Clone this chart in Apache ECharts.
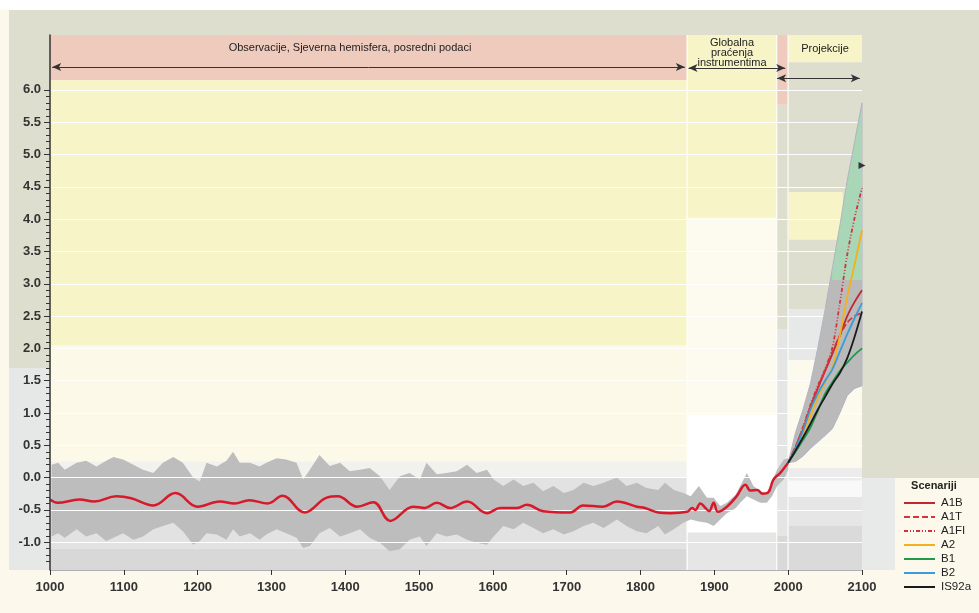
<!DOCTYPE html>
<html>
<head>
<meta charset="utf-8">
<script src="https://cdn.jsdelivr.net/npm/echarts@6/dist/echarts.min.js"></script>
<style>
  html, body { margin: 0; padding: 0; background: #fcf9ec; }
  #chart { width: 979px; height: 613px; }
</style>
</head>
<body>
<div id="chart"></div>
<script>
// tick labels
const yTicks = [-1.0, -0.5, 0.0, 0.5, 1.0, 1.5, 2.0, 2.5, 3.0, 3.5, 4.0, 4.5, 5.0, 5.5, 6.0];
const yMinor = [-1.3, -1.2, -1.1, -1.0, -0.9, -0.8, -0.7, -0.6, -0.5, -0.4, -0.3, -0.2, -0.1, 0.0,
  0.1, 0.2, 0.3, 0.4, 0.5, 0.6, 0.7, 0.8, 0.9, 1.0, 1.1, 1.2, 1.3, 1.4, 1.5, 1.6, 1.7, 1.8, 1.9, 2.0,
  2.1, 2.2, 2.3, 2.4, 2.5, 2.6, 2.7, 2.8, 2.9, 3.0, 3.1, 3.2, 3.3, 3.4, 3.5, 3.6, 3.7, 3.8, 3.9, 4.0,
  4.1, 4.2, 4.3, 4.4, 4.5, 4.6, 4.7, 4.8, 4.9, 5.0, 5.1, 5.2, 5.3, 5.4, 5.5, 5.6, 5.7, 5.8, 5.9, 6.0];

// proxy + instrumental range (grey band)
const bandYears = [1002, 1011, 1020, 1036, 1049, 1063, 1076, 1086, 1099, 1113, 1126, 1140, 1153, 1167, 1180,
  1194, 1203, 1212, 1226, 1239, 1248, 1257, 1271, 1284, 1293, 1307, 1320, 1334, 1343, 1352, 1365, 1379,
  1393, 1406, 1420, 1433, 1447, 1460, 1474, 1487, 1501, 1510, 1524, 1537, 1551, 1565, 1578, 1592, 1601,
  1614, 1628, 1641, 1655, 1668, 1682, 1696, 1709, 1723, 1736, 1750, 1768, 1781, 1795, 1808, 1824, 1833,
  1845, 1858, 1868, 1879, 1890, 1899, 1908, 1917, 1929, 1935, 1944, 1953, 1962, 1971, 1978, 1985, 1994, 2000];
const bandHigh = [0.2, 0.23, 0.12, 0.23, 0.26, 0.17, 0.26, 0.32, 0.28, 0.2, 0.12, 0.07, 0.23, 0.32, 0.23,
  0.0, -0.06, 0.23, 0.17, 0.26, 0.4, 0.23, 0.23, 0.17, 0.23, 0.3, 0.28, 0.23, -0.03, 0.12, 0.35, 0.18,
  0.23, 0.1, 0.12, 0.15, 0.02, -0.19, 0.02, 0.07, -0.03, 0.23, 0.05, 0.07, 0.1, 0.2, 0.07, 0.12, -0.03,
  -0.13, -0.03, -0.13, -0.08, -0.21, -0.13, -0.24, -0.19, -0.08, -0.13, -0.08, 0.0, -0.13, -0.08, -0.16, -0.19, -0.08,
  -0.19, -0.24, -0.29, -0.13, -0.31, -0.31, -0.44, -0.39, -0.26, -0.13, 0.07, -0.13, -0.21, -0.24, -0.06, 0.12, 0.28, 0.3];
const bandLow = [-0.91, -0.86, -0.93, -0.8, -0.91, -0.86, -0.98, -0.93, -0.86, -0.96, -0.91, -0.8, -0.75, -0.7, -0.83,
  -1.04, -0.98, -0.86, -0.88, -0.96, -0.8, -0.91, -0.86, -0.96, -0.88, -0.8, -0.86, -0.93, -1.09, -1.06, -0.86, -0.78,
  -0.91, -0.86, -0.8, -0.93, -1.01, -1.14, -1.11, -0.96, -0.91, -1.06, -0.86, -0.91, -0.88, -0.96, -1.01, -1.04, -0.91,
  -0.75, -0.8, -0.7, -0.78, -0.86, -0.8, -0.88, -0.83, -0.75, -0.7, -0.78, -0.65, -0.75, -0.83, -0.86, -0.75, -0.88,
  -0.8, -0.7, -0.65, -0.68, -0.7, -0.75, -0.65, -0.55, -0.47, -0.39, -0.29, -0.34, -0.39, -0.39, -0.29, -0.13, -0.03, 0.12];

// smoothed observations (red)
const obsYears = [1000, 1010, 1040, 1060, 1090, 1110, 1140, 1170, 1200, 1230, 1250, 1270, 1295, 1315, 1345, 1375,
  1390, 1416, 1438, 1461, 1492, 1508, 1524, 1542, 1565, 1592, 1610, 1633, 1646, 1668, 1705, 1722, 1749, 1768,
  1795, 1806, 1824, 1840, 1863, 1870, 1874, 1881, 1888, 1893, 1899, 1905, 1917, 1930, 1942, 1949, 1958, 1965,
  1973, 1980, 1989, 1998, 2000];
const obsVals = [-0.34, -0.39, -0.34, -0.37, -0.29, -0.32, -0.43, -0.24, -0.45, -0.37, -0.40, -0.35, -0.40, -0.28, -0.54, -0.31,
  -0.29, -0.45, -0.38, -0.67, -0.45, -0.47, -0.39, -0.47, -0.37, -0.55, -0.47, -0.47, -0.42, -0.52, -0.54, -0.43, -0.45, -0.37,
  -0.45, -0.47, -0.54, -0.55, -0.53, -0.47, -0.50, -0.40, -0.47, -0.52, -0.39, -0.53, -0.45, -0.29, -0.11, -0.20, -0.19, -0.25,
  -0.23, -0.03, 0.07, 0.20, 0.23];

// projections
const projYears = [2000, 2010, 2020, 2030, 2040, 2050, 2060, 2070, 2080, 2090, 2100];
const envHigh = [0.23, 0.7, 1.05, 1.45, 2.0, 2.6, 3.25, 3.9, 4.6, 5.2, 5.8];
const envLow = [0.23, 0.25, 0.33, 0.45, 0.55, 0.65, 0.76, 1.0, 1.27, 1.38, 1.42];
const greenYears = [2059, 2060, 2070, 2080, 2090, 2100];
const greenHigh = [3.06, 3.2, 3.85, 4.55, 5.15, 5.74];
const greenLow = [3.06, 3.06, 3.06, 3.06, 3.06, 3.06];
const a1b = [0.23, 0.46, 0.74, 1.08, 1.38, 1.65, 1.92, 2.2, 2.5, 2.72, 2.9];
const a1t = [0.23, 0.48, 0.76, 1.08, 1.38, 1.66, 1.95, 2.2, 2.4, 2.5, 2.55];
const a1fi = [0.23, 0.48, 0.78, 1.12, 1.42, 1.68, 2.02, 2.7, 3.45, 4.02, 4.48];
const a2 = [0.23, 0.43, 0.68, 0.95, 1.23, 1.48, 1.7, 2.2, 2.8, 3.3, 3.83];
const b1 = [0.23, 0.4, 0.58, 0.77, 1.03, 1.3, 1.48, 1.65, 1.78, 1.9, 2.0];
const b2 = [0.23, 0.45, 0.72, 1.05, 1.3, 1.5, 1.68, 1.95, 2.22, 2.47, 2.7];
const is92a = [0.23, 0.42, 0.62, 0.83, 1.05, 1.25, 1.45, 1.62, 1.85, 2.18, 2.57];
const marker = [[2100, 4.83]];

const scenarioNames = ['A1B', 'A1T', 'A1FI', 'A2', 'B1', 'B2', 'IS92a'];

const FONT = 'Liberation Sans, Arial, sans-serif';
const PINK = '#efcbbd', YELLOW = '#f7f5c8', GG = '#dddecd';

// background blocks: [x1, x2, y1, y2, colour]
const zones = [
  [1000, 1862.5, 6.15, 6.85, PINK],
  [1000, 1862.5, 2.05, 6.15, YELLOW],
  [1000, 1862.5, 0.25, 2.05, '#fcf9e8'],
  [1000, 1862.5, 0.0, 0.25, '#f1f1ed'],
  [1000, 1862.5, -1.1, 0.0, '#e2e2e2'],
  [1000, 1862.5, -1.43, -1.1, '#d8d8d8'],
  [1862.5, 1864, -1.43, 6.85, '#ffffff'],
  [1864, 1984, 4.02, 6.85, YELLOW],
  [1864, 1984, 0.97, 4.02, '#fdfbef'],
  [1864, 1984, -0.85, 0.97, '#ffffff'],
  [1864, 1984, -1.43, -0.85, '#e6e6e6'],
  [1984, 1985.3, -1.43, 6.85, '#ffffff'],
  [1985.3, 1999.3, 5.77, 6.85, PINK],
  [1985.3, 1999.3, 2.3, 5.77, GG],
  [1985.3, 1999.3, -0.9, 2.3, '#e4e5e5'],
  [1985.3, 1999.3, -1.43, -0.9, '#d9d9d9'],
  [1999.3, 2000.7, -1.43, 6.85, '#ffffff'],
  [2000.7, 2100, 6.43, 6.85, YELLOW],
  [2000.7, 2100, 2.6, 6.43, GG],
  [2001, 2074, 3.68, 4.42, YELLOW],
  [2000.7, 2100, 1.82, 2.6, '#e7e8e8'],
  [2000.7, 2100, 0.15, 1.82, '#fcfaec'],
  [2000.7, 2100, -0.05, 0.15, '#ececec'],
  [2000.7, 2100, -0.3, -0.05, '#f9f9f9'],
  [2000.7, 2100, -0.75, -0.3, '#e6e6e6'],
  [2000.7, 2100, -1.43, -0.75, '#dadada']
];

const pairs = (xs, ys) => xs.map((x, i) => [x, ys[i]]);

function band(name, xs, lo, hi, color, z, edge) {
  return {
    name: name, type: 'custom', z: z, silent: true,
    data: [[xs[0], lo[0]]],
    renderItem: function (params, api) {
      const pts = [];
      for (let i = 0; i < xs.length; i++) pts.push(api.coord([xs[i], hi[i]]));
      for (let i = xs.length - 1; i >= 0; i--) pts.push(api.coord([xs[i], lo[i]]));
      return {
        type: 'polygon', shape: { points: pts },
        style: { fill: color, stroke: edge || null, lineWidth: edge ? 1 : 0 }
      };
    }
  };
}

function scenario(name, vals, color, dash) {
  return {
    name: name, type: 'line', z: 7, silent: true, symbol: 'none', smooth: 0.3,
    data: pairs(projYears, vals),
    lineStyle: { color: color, width: 1.8, type: dash || 'solid' },
    itemStyle: { color: color }
  };
}

const chart = echarts.init(document.getElementById('chart'));

chart.setOption({
  backgroundColor: '#fcf9ec',
  animation: false,
  grid: { left: 50, right: 117, top: 35, bottom: 43 },
  xAxis: {
    type: 'value', min: 1000, max: 2100, interval: 100, z: 10,
    axisLine: { show: true, onZero: false, lineStyle: { color: '#b0b0b0', width: 1 } },
    axisTick: { show: true, length: 5, lineStyle: { color: '#333' } },
    axisLabel: { color: '#333', fontSize: 13, fontWeight: 'bold', fontFamily: FONT, margin: 11,
      formatter: v => String(v) },
    splitLine: { show: false }
  },
  yAxis: [
    {
      type: 'value', min: -1.43, max: 6.85, z: 10,
      axisLine: { show: true, lineStyle: { color: '#333', width: 1.5 } },
      axisTick: { show: true, length: 6, customValues: yTicks, lineStyle: { color: '#333' } },
      axisLabel: {
        customValues: yTicks, color: '#333', fontSize: 13, fontWeight: 'bold', fontFamily: FONT, margin: 9,
        formatter: v => Number(v).toFixed(1)
      },
      splitLine: { show: false }
    },
    {
      type: 'value', min: -1.43, max: 6.85, position: 'left', z: 10,
      axisLine: { show: false },
      axisTick: { show: true, length: 4, customValues: yMinor, lineStyle: { color: '#333' } },
      axisLabel: { show: false },
      splitLine: { show: false }
    }
  ],
  legend: {
    data: scenarioNames, orient: 'vertical', left: 903, top: 497, padding: 0,
    itemWidth: 31, itemHeight: 12, itemGap: 2, selectedMode: false,
    itemStyle: { opacity: 0 },
    textStyle: { color: '#222', fontSize: 11.5, fontFamily: FONT, padding: [0, 0, 0, 1] }
  },
  graphic: [
    { type: 'rect', z: -1, shape: { x: 0, y: 0, width: 979, height: 10 }, style: { fill: '#ffffff' } },
    { type: 'rect', z: -1, shape: { x: 9, y: 10, width: 970, height: 25 }, style: { fill: GG } },
    { type: 'rect', z: -1, shape: { x: 9, y: 35, width: 41, height: 333 }, style: { fill: GG } },
    { type: 'rect', z: -1, shape: { x: 9, y: 368, width: 41, height: 202 }, style: { fill: '#e6e7e7' } },
    { type: 'rect', z: -1, shape: { x: 862, y: 35, width: 117, height: 443 }, style: { fill: GG } },
    { type: 'rect', z: -1, shape: { x: 862, y: 478, width: 33, height: 92 }, style: { fill: '#e8e9e9' } },
    {
      type: 'text', z: 20, x: 350, y: 48,
      style: { text: 'Observacije, Sjeverna hemisfera, posredni podaci', fill: '#222', font: '11px ' + FONT,
        align: 'center', verticalAlign: 'middle', textAlign: 'center', textVerticalAlign: 'middle' }
    },
    {
      type: 'text', z: 20, x: 732, y: 53,
      style: { text: 'Globalna\npraćenja\ninstrumentima', fill: '#222', font: '11px ' + FONT, lineHeight: 10,
        align: 'center', verticalAlign: 'middle', textAlign: 'center', textVerticalAlign: 'middle' }
    },
    {
      type: 'text', z: 20, x: 825, y: 49,
      style: { text: 'Projekcije', fill: '#222', font: '11px ' + FONT,
        align: 'center', verticalAlign: 'middle', textAlign: 'center', textVerticalAlign: 'middle' }
    },
    {
      type: 'text', z: 20, x: 934, y: 486,
      style: { text: 'Scenariji', fill: '#222', font: 'bold 11px ' + FONT,
        align: 'center', verticalAlign: 'middle', textAlign: 'center', textVerticalAlign: 'middle' }
    }
  ],
  series: [
    {
      name: 'bg', type: 'line', data: [], silent: true,
      markArea: {
        silent: true,
        data: zones.map(zn => [
          { coord: [zn[0], zn[2]], itemStyle: { color: zn[4], opacity: 1 } },
          { coord: [zn[1], zn[3]] }
        ])
      }
    },
    band('proxy', bandYears, bandLow, bandHigh, '#bdbdbd', 2),
    {
      name: 'gridlines', type: 'line', data: [], silent: true,
      markLine: {
        z: 3, silent: true, symbol: 'none', animation: false,
        label: { show: false },
        lineStyle: { color: '#ffffff', width: 1, type: 'solid' },
        data: yTicks.map(v => ({ yAxis: v }))
      }
    },
    band('envelope', projYears, envLow, envHigh, '#bababa', 4, '#b4b4c4'),
    band('aogcm', greenYears, greenLow, greenHigh, '#a8d6b6', 5),
    {
      name: 'obs', type: 'line', z: 6, silent: true, symbol: 'none', smooth: 0.4,
      data: pairs(obsYears, obsVals),
      lineStyle: { color: '#d7192b', width: 2.5 }
    },
    scenario('A1B', a1b, '#c1272d'),
    scenario('A1T', a1t, '#d3343c', [6, 3]),
    scenario('A1FI', a1fi, '#d3343c', [4, 2, 1, 2, 1, 2]),
    scenario('A2', a2, '#f3b21c'),
    scenario('B1', b1, '#1f9a4b'),
    scenario('B2', b2, '#3c9bd8'),
    scenario('IS92a', is92a, '#1a1a1a'),
    {
      name: 'marker', type: 'scatter', z: 8, silent: true, data: marker,
      symbol: 'triangle', symbolRotate: -90, symbolSize: 7, itemStyle: { color: '#111' }
    },
    {
      name: 'arrows', type: 'line', data: [], silent: true,
      markLine: {
        z: 8, silent: true, animation: false,
        symbol: ['arrow', 'arrow'], symbolSize: [6, 9],
        label: { show: false },
        lineStyle: { color: '#333', width: 1, type: 'solid' },
        data: [
          [{ coord: [1003, 6.355] }, { coord: [1860, 6.355] }],
          [{ coord: [1865, 6.34] }, { coord: [1996, 6.34] }],
          [{ coord: [1985, 6.18] }, { coord: [2097, 6.18] }]
        ]
      }
    }
  ]
});
</script>
</body>
</html>
